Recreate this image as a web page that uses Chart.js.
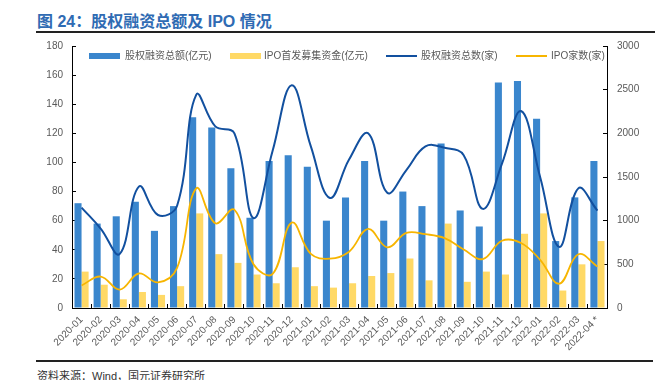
<!DOCTYPE html>
<html>
<head>
<meta charset="utf-8">
<script src="https://cdn.jsdelivr.net/npm/chart.js@4.4.1/dist/chart.umd.min.js"></script>
<style>
  body { margin: 0; background: #fff; }
  #page { position: relative; width: 658px; height: 380px; overflow: hidden; font-family: "Liberation Sans", Arial, "Noto Sans CJK SC", sans-serif; }
  #title { position: absolute; left: 37px; top: 8px; font-size: 16px; font-weight: bold; color: #2F6BB3; font-family: "Liberation Sans", Arial, "Noto Sans CJK SC", sans-serif; white-space: nowrap; }
  #rule1 { position: absolute; left: 36px; top: 31px; width: 619px; height: 2px; background: #222; }
  #rule2 { position: absolute; left: 36px; top: 360px; width: 617px; height: 2px; background: #222; }
  #source { position: absolute; left: 37px; top: 367px; font-size: 11px; color: #333; white-space: nowrap; }
  #chartWrap { position: absolute; left: 0; top: 36px; width: 658px; height: 324px; }
  #chartWrap canvas { display: block; }
  .lg { position: absolute; top: 50px; font-size: 10px; color: #595959; white-space: nowrap; line-height: 12px; }
  .sw { position: absolute; width: 31px; }
</style>
</head>
<body>
<div id="page">
  <div id="title">图 24：股权融资总额及 IPO 情况</div>
  <div id="rule1"></div>
  <div id="chartWrap"><canvas id="equityChart" width="658" height="324"></canvas></div>
  <div class="sw" style="left:89px; top:53px; height:6px; background:#3A86CD;"></div>
  <div class="lg" style="left:125px;">股权融资总额(亿元)</div>
  <div class="sw" style="left:230px; top:53px; height:6px; background:#FFD966;"></div>
  <div class="lg" style="left:264px;">IPO首发募集资金(亿元)</div>
  <div class="sw" style="left:386px; top:55px; height:2px; background:#12509F;"></div>
  <div class="lg" style="left:421px;">股权融资总数(家)</div>
  <div class="sw" style="left:516px; top:55px; height:2px; background:#F7B500;"></div>
  <div class="lg" style="left:551px;">IPO家数(家)</div>
  <div id="rule2"></div>
  <div id="source">资料来源：Wind，国元证券研究所</div>
</div>
<script>
const months = ['2020-01','2020-02','2020-03','2020-04','2020-05','2020-06','2020-07','2020-08','2020-09','2020-10',
  '2020-11','2020-12','2021-01','2021-02','2021-03','2021-04','2021-05','2021-06','2021-07','2021-08',
  '2021-09','2021-10','2021-11','2021-12','2022-01','2022-02','2022-03','2022-04 *'];

// 亿元, left axis
const equityAmount = [72, 58, 63, 73, 53, 70, 131, 124, 96, 62, 101, 105, 97, 60, 76, 101, 60, 80, 70, 113, 67, 56, 155, 156, 130, 46, 76, 101];
const ipoAmount = [25, 16, 6, 11, 9, 15, 65, 37, 31, 23, 17, 28, 15, 14, 17, 22, 24, 34, 19, 58, 18, 25, 23, 51, 65, 12, 30, 46];

// 家, right axis
const equityCount = [1150, 910, 620, 1390, 1065, 1170, 2440, 2080, 2000, 1030, 1800, 2550, 1850, 1260, 1700, 2000, 1320, 1580, 1850, 1835, 1750, 1135, 1650, 2255, 1500, 700, 1370, 1115];
const ipoCount = [258, 360, 210, 395, 293, 460, 1370, 970, 1125, 500, 390, 978, 620, 565, 645, 905, 695, 860, 845, 800, 670, 560, 770, 745, 552, 278, 615, 475];

const leftTicks = { min: 0, max: 180, step: 20 };
const rightTicks = { min: 0, max: 3000, step: 500 };

Chart.defaults.font.family = '"Liberation Sans", Arial, sans-serif';
Chart.defaults.font.size = 10;
Chart.defaults.color = '#595959';

const ctx = document.getElementById('equityChart');

// pin the axis boxes so the plot area sits where the original one does
function fixY(width) {
  return (scale) => {
    scale.width = width;
    scale.paddingTop = 0;
    scale.paddingBottom = 0;
  };
}

new Chart(ctx, {
  data: {
    labels: months,
    datasets: [
      {
        type: 'line',
        label: '股权融资总数(家)',
        data: equityCount,
        yAxisID: 'y1',
        borderColor: '#12509F',
        borderWidth: 2,
        pointRadius: 0,
        tension: 0.4,
        order: 0
      },
      {
        type: 'line',
        label: 'IPO家数(家)',
        data: ipoCount,
        yAxisID: 'y1',
        borderColor: '#F7B500',
        borderWidth: 1.8,
        pointRadius: 0,
        tension: 0.4,
        order: 1
      },
      {
        type: 'bar',
        label: '股权融资总额(亿元)',
        data: equityAmount,
        yAxisID: 'y',
        backgroundColor: '#3A86CD',
        barPercentage: 1,
        categoryPercentage: 0.74,
        order: 2
      },
      {
        type: 'bar',
        label: 'IPO首发募集资金(亿元)',
        data: ipoAmount,
        yAxisID: 'y',
        backgroundColor: '#FFD966',
        barPercentage: 1,
        categoryPercentage: 0.74,
        order: 3
      }
    ]
  },
  options: {
    responsive: false,
    animation: false,
    layout: { padding: { top: 10, left: 0, right: 0, bottom: 0 } },
    plugins: {
      legend: { display: false },
      tooltip: { enabled: false }
    },
    scales: {
      x: {
        offset: true,
        border: { color: '#000', width: 1 },
        grid: { display: true, drawOnChartArea: false, drawTicks: true, tickLength: -4, color: '#000', offset: true },
        ticks: { minRotation: 45, maxRotation: 45, padding: 10, autoSkip: false, color: '#595959' },
        afterFit: (scale) => { scale.height = 52; }
      },
      y: {
        position: 'left',
        min: leftTicks.min,
        max: leftTicks.max,
        border: { color: '#000', width: 1 },
        grid: { display: true, drawOnChartArea: false, drawTicks: true, tickLength: -4, color: '#000' },
        ticks: { stepSize: leftTicks.step, padding: 13, color: '#595959' },
        afterFit: fixY(72)
      },
      y1: {
        position: 'right',
        min: rightTicks.min,
        max: rightTicks.max,
        border: { color: '#000', width: 1 },
        grid: { display: true, drawOnChartArea: false, drawTicks: true, tickLength: -4, color: '#000' },
        ticks: { stepSize: rightTicks.step, padding: 14, color: '#595959', callback: (v) => String(v) },
        afterFit: fixY(51)
      }
    }
  }
});
</script>
</body>
</html>
